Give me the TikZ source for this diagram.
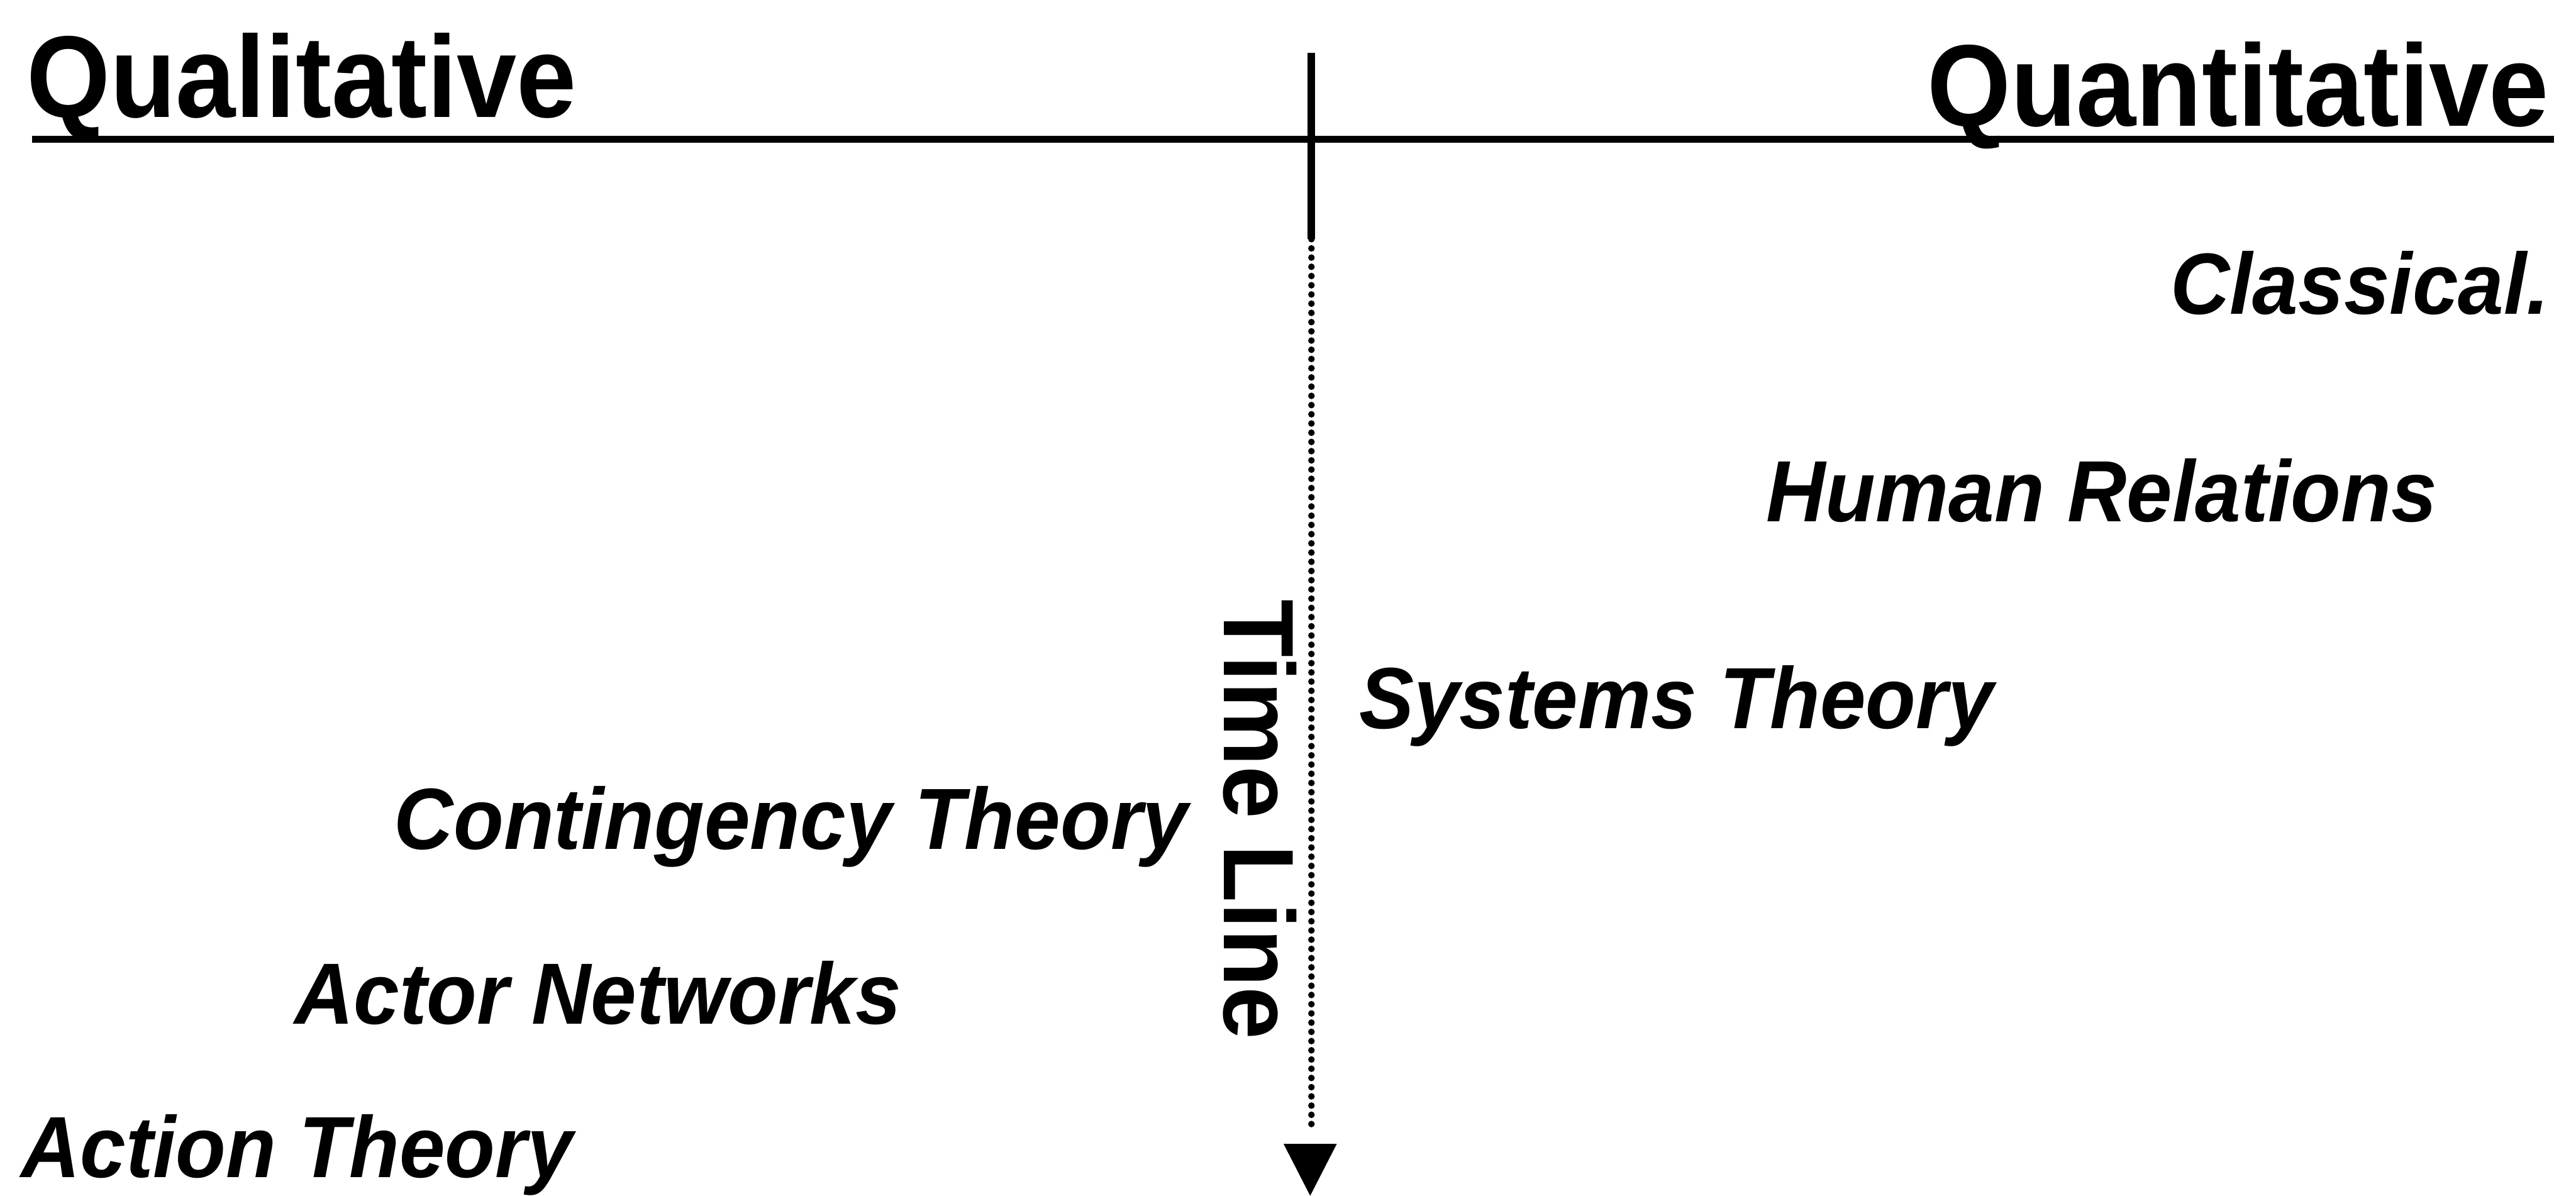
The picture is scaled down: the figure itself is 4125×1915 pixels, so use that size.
\documentclass[tikz,border=0pt]{standalone}
\usepackage{fontspec}
\usepackage{tikz}
\usetikzlibrary{arrows.meta}
\newfontfamily\headfont{Liberation Sans}[FakeStretch=0.925]
\newfontfamily\labelfont{Liberation Sans}[FakeStretch=0.945]

\begin{document}
\begin{tikzpicture}[
        x=0.05mm, y=-0.05mm,
        heading/.style={inner sep=0pt, font=\headfont\bfseries\fontsize{26.5}{30}\selectfont},
        theory/.style={inner sep=0pt, font=\labelfont\bfseries\itshape\fontsize{19.8}{24}\selectfont},
        timelabel/.style={inner sep=0pt, rotate=-90, font=\labelfont\bfseries\fontsize{22.8}{26}\selectfont},
        axis/.style={line width=1.7pt},
        timedots/.style={line width=1.5pt, line cap=round, dash pattern=on 0pt off 2.1pt},
        timehead/.style={line width=0pt, -{Triangle[width=12.1pt, length=11.8pt]}}
    ]
    \useasboundingbox (0,0) rectangle (4125,1915);

    % Ueberschriften
    \node[heading, anchor=base west] (qual) at (41,188) {Qualitative};
    \node[heading, anchor=base east] (quant) at (4083,202) {Quantitative};

    % Theorien
    \node[theory, anchor=base east] (classical) at (4084,503) {Classical.};
    \node[theory, anchor=base west] (human) at (2827,835) {Human Relations};
    \node[theory, anchor=base west] (systems) at (2175,1167) {Systems Theory};
    \node[theory, anchor=base west] (contingency) at (630,1360) {Contingency Theory};
    \node[theory, anchor=base west] (actor) at (470,1640) {Actor Networks};
    \node[theory, anchor=base west] (action) at (32,1886) {Action Theory};

    % Achsen
    \coordinate (axisleft) at (51,223);
    \coordinate (axisright) at (4090,223);
    \coordinate (tltop) at (2100,85);
    \coordinate (tlsolid) at (2100,383);
    \coordinate (tldot) at (2100,1807);
    \coordinate (tlhead) at (2098,1832);
    \coordinate (tlend) at (2098,1915);

    \draw[axis] (axisleft) -- (axisright);
    \draw[axis] (tltop) -- (tlsolid);
    \draw[timedots] (tlsolid) -- (tldot);
    \draw[timehead] (tlhead) -- (tlend);
    \node[timelabel, anchor=base west] (timeline) at (1960,959) {Time Line};
\end{tikzpicture}
\end{document}
